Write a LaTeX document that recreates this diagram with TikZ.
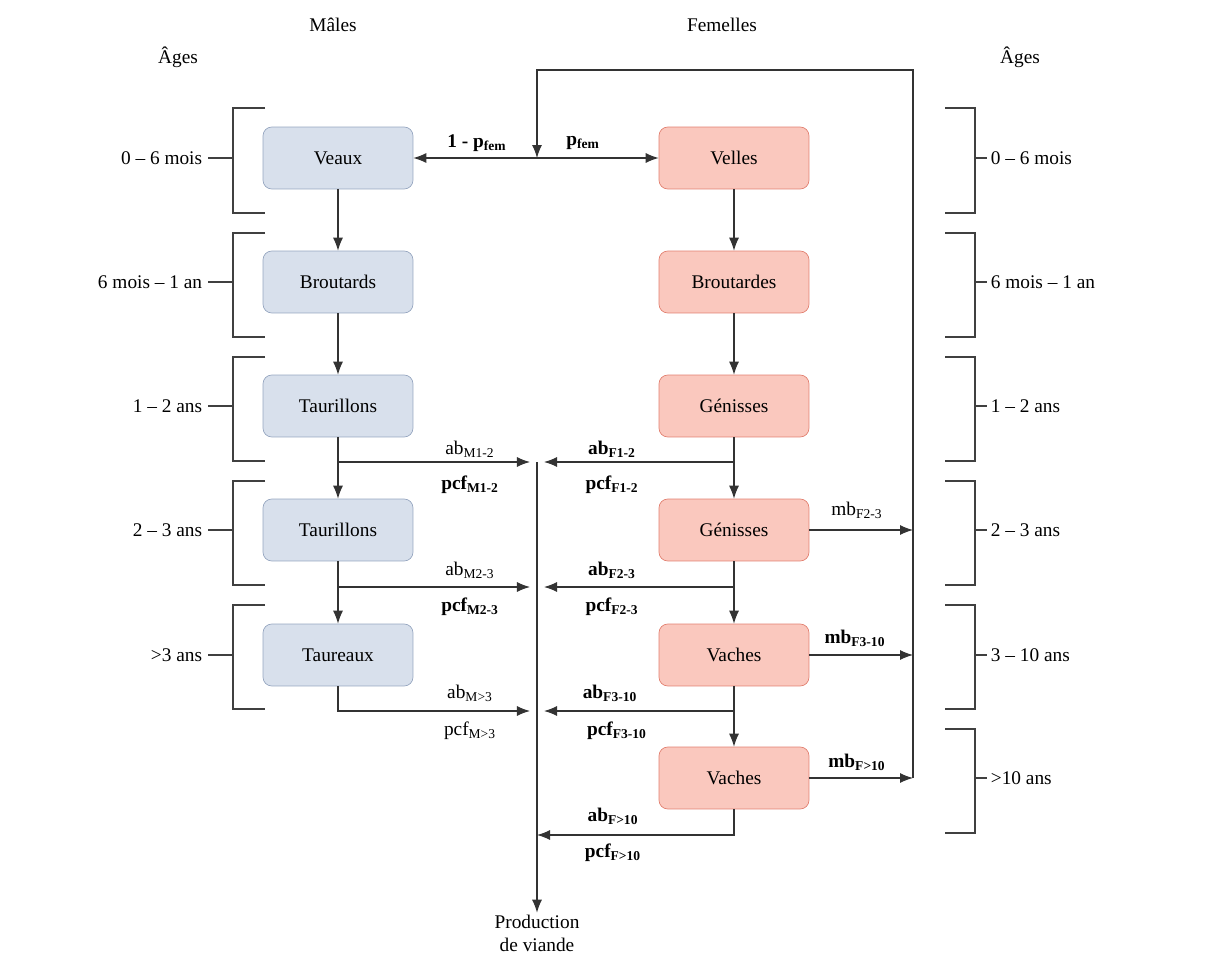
\documentclass[tikz,border=0pt]{standalone}
\usepackage{fontspec}
\setmainfont{Liberation Serif}
\usepackage{tikz}
\usetikzlibrary{arrows,arrows.meta}
\definecolor{malefill}{RGB}{216,224,236}
\definecolor{maleline}{RGB}{150,166,192}
\definecolor{femfill}{RGB}{250,200,190}
\definecolor{femline}{RGB}{226,128,112}

\begin{document}
\begin{tikzpicture}[x=0.02cm,y=-0.02cm,font=\fontsize{11}{13}\selectfont]

\tikzset{agebox/.style={rounded corners=5pt, minimum width=3cm,
    minimum height=1.24cm, inner sep=2pt},
  male/.style={agebox, draw=maleline, fill=malefill},
  female/.style={agebox, draw=femline, fill=femfill},
  flow/.style={-{Latex[length=2.6mm,width=2mm]}, semithick, black!80},
  lab/.style={inner sep=1pt}
}
\useasboundingbox (0,0) rectangle (1225,960);

% headers
\node (males) at (333,25) {Mâles};
\node (females) at (722,25) {Femelles};
\node (agesL) at (178,57) {Âges};
\node (agesR) at (1020,57) {Âges};

% male column
\node[male] (veaux) at (338,158) {Veaux};
\node[male] (broutards) at (338,282) {Broutards};
\node[male] (taurA) at (338,406) {Taurillons};
\node[male] (taurB) at (338,530) {Taurillons};
\node[male] (taureaux) at (338,655) {Taureaux};

% female column
\node[female] (velles) at (734,158) {Velles};
\node[female] (broutardes) at (734,282) {Broutardes};
\node[female] (genA) at (734,406) {Génisses};
\node[female] (genB) at (734,530) {Génisses};
\node[female] (vachA) at (734,655) {Vaches};
\node[female] (vachB) at (734,778) {Vaches};

% age brackets
\foreach \top/\mid/\bot/\txt in {108/158/213/0 – 6 mois, 233/282/337/6 mois – 1 an,
    357/406/461/1 – 2 ans, 481/530/585/2 – 3 ans, 605/655/709/>3 ans}{
  \draw[thick, black!75] (265,\top) -- (233,\top) -- (233,\bot) -- (265,\bot);
  \draw[thick, black!75] (208,\mid) -- (233,\mid);
  \node[anchor=east, inner sep=2pt] at (206,\mid) {\txt};
}
\foreach \top/\mid/\bot/\txt in {108/158/213/0 – 6 mois, 233/282/337/6 mois – 1 an,
    357/406/461/1 – 2 ans, 481/530/585/2 – 3 ans, 605/655/709/3 – 10 ans,
    729/778/833/>10 ans}{
  \draw[thick, black!75] (945,\top) -- (975,\top) -- (975,\bot) -- (945,\bot);
  \draw[thick, black!75] (975,\mid) -- (987,\mid);
  \node[anchor=west, inner sep=2pt] at (987,\mid) {\txt};
}

% ageing
\draw[flow] (veaux) -- (broutards);
\draw[flow] (broutards) -- (taurA);
\draw[flow] (taurA) -- (taurB);
\draw[flow] (taurB) -- (taureaux);
\draw[flow] (velles) -- (broutardes);
\draw[flow] (broutardes) -- (genA);
\draw[flow] (genA) -- (genB);
\draw[flow] (genB) -- (vachA);
\draw[flow] (vachA) -- (vachB);

% births
\coordinate (mbTop) at (913,70);
\coordinate (mbEnd) at (913,778);
\coordinate (loopTop) at (537,70);
\coordinate (birth) at (537,158);
\draw[flow, {Latex[length=2.6mm,width=2mm]}-{Latex[length=2.6mm,width=2mm]}] (veaux) -- (velles);
\draw[flow] (mbEnd) -- (mbTop) -- (loopTop) -- (birth);
\draw[flow] (genB.east) -- (genB.east -| mbEnd);
\draw[flow] (vachA.east) -- (vachA.east -| mbEnd);
\draw[flow] (vachB.east) -- (mbEnd);
\node[lab] at (477,143) {\textbf{1 - p\textsubscript{fem}}};
\node[lab] at (583,143) {\textbf{p\textsubscript{fem}}};
\node[lab] at (857,510) {mb\textsubscript{F2-3}};
\node[lab] at (855,638) {\textbf{mb\textsubscript{F3-10}}};
\node[lab] at (857,762) {\textbf{mb\textsubscript{F>10}}};

% meat production
\coordinate (jA) at (537,462);
\coordinate (jB) at (537,587);
\coordinate (jC) at (537,711);
\coordinate (jD) at (537,835);
\coordinate (mA) at (338,462);
\coordinate (mB) at (338,587);
\coordinate (fA) at (734,462);
\coordinate (fB) at (734,587);
\coordinate (fC) at (734,711);
\node[align=center, inner sep=1pt] (viande) at (537,933) {Production\\de viande};
\draw[flow] (jA) -- (viande);
\draw[flow, shorten >=4pt] (mA) -- (jA);
\draw[flow, shorten >=4pt] (mB) -- (jB);
\draw[flow, shorten >=4pt] (taureaux.south) |- (jC);
\draw[flow, shorten >=4pt] (fA) -- (jA);
\draw[flow, shorten >=4pt] (fB) -- (jB);
\draw[flow, shorten >=4pt] (fC) -- (jC);
\draw[flow] (vachB.south) |- (jD);

\node[lab] at (470,449) {ab\textsubscript{M1-2}};
\node[lab] at (470,485) {\textbf{pcf\textsubscript{M1-2}}};
\node[lab] at (612,449) {\textbf{ab\textsubscript{F1-2}}};
\node[lab] at (612,485) {\textbf{pcf\textsubscript{F1-2}}};
\node[lab] at (470,570) {ab\textsubscript{M2-3}};
\node[lab] at (470,607) {\textbf{pcf\textsubscript{M2-3}}};
\node[lab] at (612,570) {\textbf{ab\textsubscript{F2-3}}};
\node[lab] at (612,607) {\textbf{pcf\textsubscript{F2-3}}};
\node[lab] at (470,693) {ab\textsubscript{M>3}};
\node[lab] at (470,731) {pcf\textsubscript{M>3}};
\node[lab] at (610,693) {\textbf{ab\textsubscript{F3-10}}};
\node[lab] at (617,731) {\textbf{pcf\textsubscript{F3-10}}};
\node[lab] at (613,816) {\textbf{ab\textsubscript{F>10}}};
\node[lab] at (613,853) {\textbf{pcf\textsubscript{F>10}}};

\end{tikzpicture}
\end{document}
